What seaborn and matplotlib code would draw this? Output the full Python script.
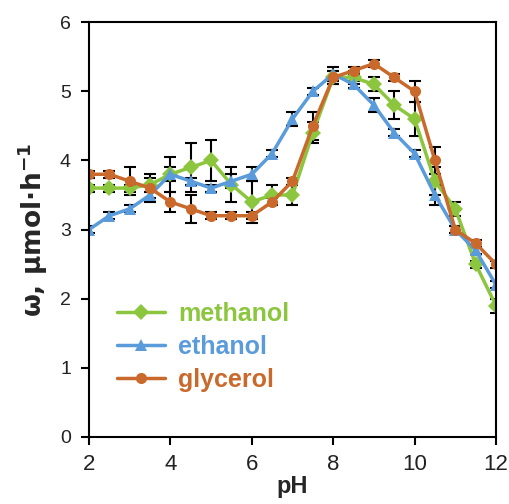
import numpy as np
import pandas as pd
import matplotlib
matplotlib.use("Agg")
import matplotlib.pyplot as plt
import seaborn as sns

ph = [2, 2.5, 3, 3.5, 4, 4.5, 5, 5.5, 6, 6.5, 7, 7.5, 8, 8.5, 9, 9.5, 10, 10.5, 11, 11.5, 12]
methanol = [3.6, 3.6, 3.6, 3.65, 3.8, 3.9, 4.0, 3.65, 3.4, 3.5, 3.5, 4.4, 5.2, 5.2, 5.1, 4.8, 4.6, 3.7, 3.3, 2.5, 1.9]
ethanol = [3.0, 3.2, 3.3, 3.5, 3.8, 3.7, 3.6, 3.7, 3.8, 4.1, 4.6, 5.0, 5.25, 5.1, 4.8, 4.4, 4.1, 3.5, 3.0, 2.7, 2.2]
glycerol = [3.8, 3.8, 3.7, 3.6, 3.4, 3.3, 3.2, 3.2, 3.2, 3.4, 3.7, 4.5, 5.2, 5.3, 5.4, 5.2, 5.0, 4.0, 3.0, 2.8, 2.5]
err_methanol = [0.05, 0.05, 0.05, 0.1, 0.25, 0.35, 0.3, 0.25, 0.3, 0.15, 0.15, 0.15, 0.1, 0.1, 0.1, 0.2, 0.25, 0.2, 0.1, 0.05, 0.1]
err_ethanol = [0.05, 0.05, 0.05, 0.05, 0.1, 0.05, 0.05, 0.1, 0.1, 0.05, 0.1, 0.05, 0.1, 0.05, 0.1, 0.05, 0.05, 0.15, 0.05, 0.05, 0.05]
err_glycerol = [0.05, 0.05, 0.2, 0.2, 0.15, 0.2, 0.05, 0.05, 0.05, 0.05, 0.05, 0.2, 0.1, 0.05, 0.05, 0.05, 0.15, 0.2, 0.05, 0.05, 0.05]
names = ["methanol", "ethanol", "glycerol"]
colors = ["#8CC63E", "#5A9BDC", "#C9692B"]
markers = ["D", "^", "o"]

sns.set_style("white")
plt.rcParams['font.family'] = ['Liberation Sans', 'DejaVu Sans']

rows = []
for n, vals in zip(names, [methanol, ethanol, glycerol]):
    for x, v in zip(ph, vals):
        rows.append({"pH": x, "w": v, "series": n})
df = pd.DataFrame(rows)

fig = plt.figure(figsize=(5.10, 5.04), dpi=100)
ax = fig.add_axes([0.1745, 0.133, 0.798, 0.823])

for n, vals, errs, c in zip(names, [methanol, ethanol, glycerol], [err_methanol, err_ethanol, err_glycerol], colors):
    ax.errorbar(ph, vals, yerr=errs, fmt='none', ecolor='black', elinewidth=1.5, capsize=4, capthick=1.5, zorder=1)

sns.lineplot(data=df, x="pH", y="w", hue="series", style="series",
             palette=dict(zip(names, colors)), markers=dict(zip(names, markers)),
             dashes=False, linewidth=2.5, markersize=8, markeredgewidth=0, ax=ax, zorder=2)

ax.set_xlim(2, 12)
ax.set_ylim(0, 6)
ax.set_xticks([2, 4, 6, 8, 10, 12])
ax.set_yticks([0, 1, 2, 3, 4, 5, 6])
ax.tick_params(axis='both', direction='out', length=6, width=1.5, colors='black',
               labelcolor='#222222', left=True, bottom=True)
ax.tick_params(axis='y', labelsize=14, pad=7)
ax.tick_params(axis='x', labelsize=16, pad=6)
for s in ax.spines.values():
    s.set_color('black')
    s.set_linewidth(1.5)
ax.set_xlabel("pH", fontsize=17, fontweight='bold', labelpad=0)
ax.set_ylabel(r"ω, µmol·h$^{\mathbf{-1}}$", fontsize=19, fontweight='bold', labelpad=7,
              family=['DejaVu Sans'])

leg = ax.legend(loc='upper left', bbox_to_anchor=(0.069, 0.325), frameon=False, fontsize=18,
                handlelength=1.9, labelspacing=0.35, handletextpad=0.55, borderpad=0, borderaxespad=0)
for t, c in zip(leg.get_texts(), colors):
    t.set_color(c)
    t.set_fontweight('bold')

fig.savefig("out.png", dpi=100)
